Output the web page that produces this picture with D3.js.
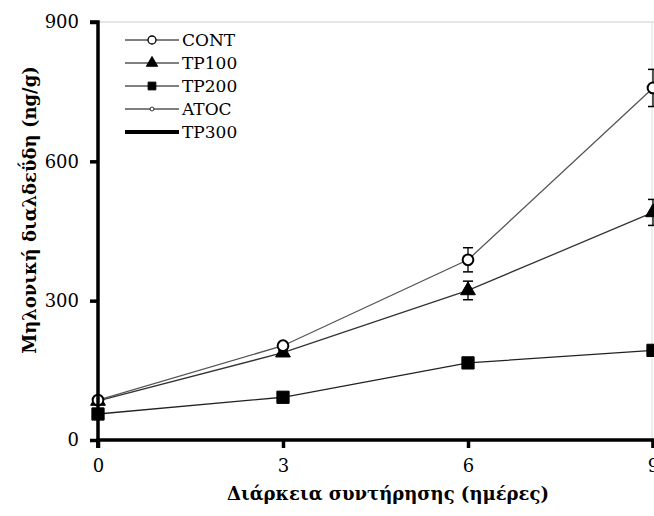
<!DOCTYPE html>
<html><head><meta charset="utf-8">
<script src="https://cdn.jsdelivr.net/npm/d3@7"></script>
<style>body{margin:0;background:#fff}svg{display:block}</style>
</head><body>
<svg id="c" width="654" height="516"></svg>
<script>
const days = [0, 3, 6, 9];
const cont = [86, 203, 388, 758];
const contErr = [5, 6, 26, 40];
const tp100 = [84, 188, 322, 490];
const tp100Err = [4, 6, 20, 28];
const tp200 = [56, 92, 166, 193];
const tp200Err = [3, 3, 4, 4];
const legendNames = ["CONT", "TP100", "TP200", "ATOC", "TP300"];
const yTicks = [0, 300, 600, 900];
const xTicks = [0, 3, 6, 9];

const svg = d3.select("#c");
const x = d3.scaleLinear().domain([0, 9]).range([98, 653]);
const y = d3.scaleLinear().domain([0, 900]).range([440, 22]);
const font = "DejaVu Serif";

// faint frame
svg.append("line").attr("x1", x(0)).attr("x2", 654).attr("y1", y(900)).attr("y2", y(900)).attr("stroke", "#ccc").attr("stroke-width", 1);
svg.append("line").attr("x1", x(9) - 1).attr("x2", x(9) - 1).attr("y1", y(900)).attr("y2", y(0)).attr("stroke", "#ddd").attr("stroke-width", 1);

const series = [
  {name: "TP200", v: tp200, e: tp200Err, sym: d3.symbolSquare, size: 150, fill: "#000", line: "#222"},
  {name: "TP100", v: tp100, e: tp100Err, sym: d3.symbolTriangle, size: 95, fill: "#000", line: "#333"},
  {name: "CONT", v: cont, e: contErr, sym: d3.symbolCircle, size: 90, fill: "#fff", line: "#555"}
];

const lineGen = d3.line().x((d, i) => x(days[i])).y(d => y(d));
series.forEach(s => {
  svg.append("path").attr("d", lineGen(s.v)).attr("fill", "none").attr("stroke", s.line).attr("stroke-width", 1.3);
});
series.forEach(s => {
  const g = svg.append("g");
  s.v.forEach((v, i) => {
    const cx = x(days[i]);
    g.append("line").attr("x1", cx).attr("x2", cx).attr("y1", y(v + s.e[i])).attr("y2", y(v - s.e[i])).attr("stroke", "#000").attr("stroke-width", 1.3);
    [v + s.e[i], v - s.e[i]].forEach(w => g.append("line").attr("x1", cx - 5).attr("x2", cx + 5).attr("y1", y(w)).attr("y2", y(w)).attr("stroke", "#000").attr("stroke-width", 1.5));
    g.append("path").attr("d", d3.symbol().type(s.sym).size(s.size)())
      .attr("transform", `translate(${cx},${y(v)})`)
      .attr("fill", s.fill).attr("stroke", "#000").attr("stroke-width", s.fill === "#fff" ? 2 : 1);
  });
});

// axes
const ya = svg.append("g").attr("transform", `translate(${x(0)},0)`)
  .call(d3.axisLeft(y).tickValues(yTicks).tickSize(8).tickPadding(11).tickFormat(d3.format("d")));
const xa = svg.append("g").attr("transform", `translate(0,${y(0)})`)
  .call(d3.axisBottom(x).tickValues(xTicks).tickSize(8).tickPadding(11).tickFormat(d3.format("d")));
[ya, xa].forEach(a => {
  a.attr("font-family", font);
  a.select(".domain").attr("stroke", "#000").attr("stroke-width", 3.5);
  a.selectAll(".tick line").attr("stroke", "#000").attr("stroke-width", 3.5);
  a.selectAll(".tick text").attr("font-family", font).attr("font-size", 18).attr("fill", "#000");
});
ya.select(".domain").attr("d", `M-8,${y(900)}H0V${y(0) + 8}`);
xa.select(".domain").attr("d", `M${x(0)},8V0H${x(9)}V8`);

// axis titles
svg.append("text").attr("x", 388).attr("y", 500).attr("text-anchor", "middle")
  .attr("font-family", font).attr("font-weight", "bold").attr("font-size", 18).text("Διάρκεια συντήρησης (ημέρες)");
svg.append("text").attr("transform", `translate(36,210) rotate(-90)`).attr("text-anchor", "middle")
  .attr("font-family", font).attr("font-weight", "bold").attr("font-size", 18).text("Μηλονική διαλδεΰδη (ng/g)");

// legend
const lg = svg.append("g");
const lx0 = 125, lx1 = 179, ly0 = 40, ldy = 23;
legendNames.forEach((n, i) => {
  const ly = ly0 + i * ldy;
  const thick = n === "TP300";
  lg.append("line").attr("x1", lx0).attr("x2", lx1).attr("y1", ly).attr("y2", ly)
    .attr("stroke", "#000").attr("stroke-width", thick ? 4 : 1);
  let sym = null, size = 0, fill = "#000", sw = 1;
  if (n === "CONT") { sym = d3.symbolCircle; size = 50; fill = "#fff"; sw = 1.3; }
  if (n === "TP100") { sym = d3.symbolTriangle; size = 55; }
  if (n === "TP200") { sym = d3.symbolSquare; size = 60; }
  if (n === "ATOC") { sym = d3.symbolCircle; size = 12; fill = "#fff"; sw = 0.8; }
  if (sym) lg.append("path").attr("d", d3.symbol().type(sym).size(size)())
    .attr("transform", `translate(${(lx0 + lx1) / 2},${ly})`).attr("fill", fill).attr("stroke", "#000").attr("stroke-width", sw);
  lg.append("text").attr("x", lx1 + 3).attr("y", ly + 6).attr("font-family", font).attr("font-size", 17).text(n);
});
</script>
</body></html>
